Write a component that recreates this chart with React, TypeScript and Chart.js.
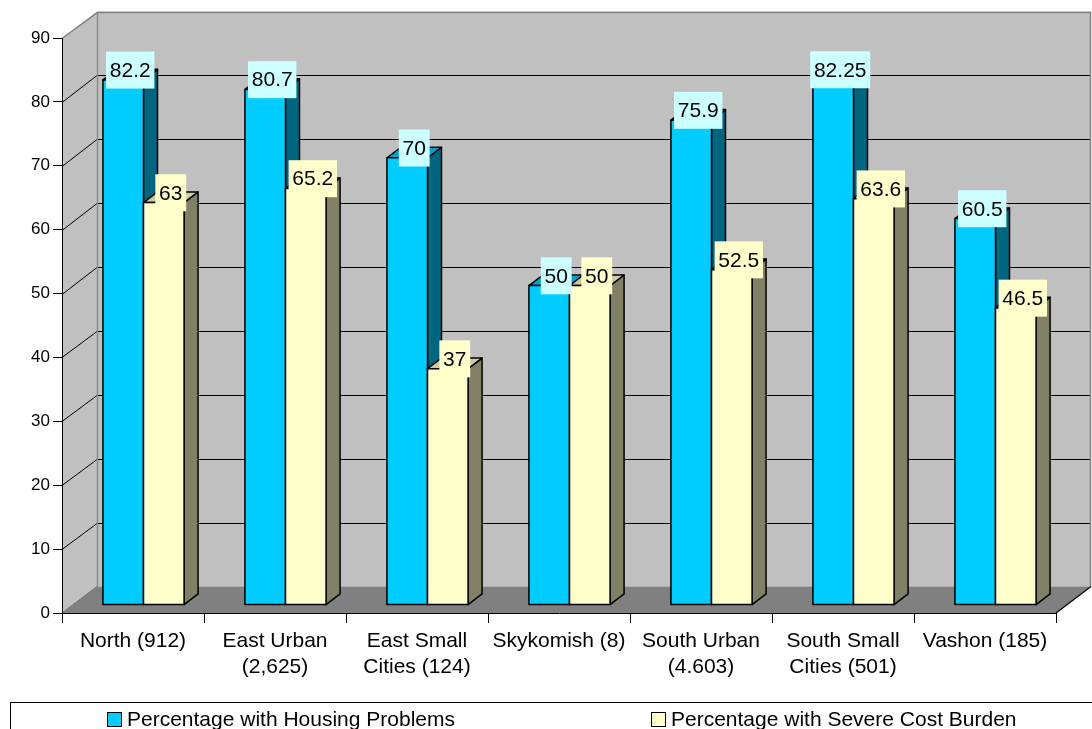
import React, { useEffect, useRef } from "react";
import { Chart, registerables } from "chart.js";

Chart.register(...registerables);

// ---- data ----
const categories: string[][] = [
  ["North (912)"],
  ["East Urban", "(2,625)"],
  ["East Small", "Cities (124)"],
  ["Skykomish (8)"],
  ["South Urban", "(4.603)"],
  ["South Small", "Cities (501)"],
  ["Vashon (185)"],
];
const housingProblems = [82.2, 80.7, 70, 50, 75.9, 82.25, 60.5];
const severeCostBurden = [63, 65.2, 37, 50, 52.5, 63.6, 46.5];
const seriesNames = ["Percentage with Housing Problems", "Percentage with Severe Cost Burden"];
const yMin = 0;
const yMax = 90;
const yStep = 10;

// ---- styling ----
const FONT = '"Liberation Sans", Arial, Helvetica, sans-serif';
const WALL_DX = 35; // depth offset of the back wall
const WALL_DY = 26.5;
const BAR_FRONT = 0.3; // bar front face position within the depth
const BAR_DEPTH = 0.4; // bar thickness within the depth

const seriesStyle = [
  { front: "#00CCFF", top: "#00A3CC", side: "#006680", labelBg: "#CCFFFF" },
  { front: "#FFFFCC", top: "#CCCCA3", side: "#808066", labelBg: "#FFFFCC" },
];

function poly(ctx: CanvasRenderingContext2D, pts: number[][], fill?: string, stroke?: string, lw = 1) {
  ctx.beginPath();
  ctx.moveTo(pts[0][0], pts[0][1]);
  for (let i = 1; i < pts.length; i++) ctx.lineTo(pts[i][0], pts[i][1]);
  ctx.closePath();
  if (fill) {
    ctx.fillStyle = fill;
    ctx.fill();
  }
  if (stroke) {
    ctx.strokeStyle = stroke;
    ctx.lineWidth = lw;
    ctx.stroke();
  }
}

function line(ctx: CanvasRenderingContext2D, pts: number[][], color: string, lw = 1) {
  ctx.beginPath();
  ctx.moveTo(pts[0][0], pts[0][1]);
  for (let i = 1; i < pts.length; i++) ctx.lineTo(pts[i][0], pts[i][1]);
  ctx.strokeStyle = color;
  ctx.lineWidth = lw;
  ctx.stroke();
}

// crisp 1px position
const px = (v: number) => Math.round(v) + 0.5;

// Walls, floor and gridlines of the 3D box, then the bars, labels and legend
const walls3dPlugin = {
  id: "walls3d",
  beforeDraw(chart: any) {
    const { ctx, chartArea, scales } = chart;
    const { left, right, top, bottom } = chartArea;
    const y = scales.y;
    ctx.save();
    // back wall
    poly(ctx, [
      [left + WALL_DX, top - WALL_DY],
      [right + WALL_DX, top - WALL_DY],
      [right + WALL_DX, bottom - WALL_DY],
      [left + WALL_DX, bottom - WALL_DY],
    ], "#C0C0C0");
    // side wall
    poly(ctx, [
      [left, top],
      [left + WALL_DX, top - WALL_DY],
      [left + WALL_DX, bottom - WALL_DY],
      [left, bottom],
    ], "#C0C0C0");
    // floor
    poly(ctx, [
      [left, bottom],
      [right, bottom],
      [right + WALL_DX, bottom - WALL_DY],
      [left + WALL_DX, bottom - WALL_DY],
    ], "#808080");
    // gridlines on side and back walls
    for (let v = yMin + yStep; v < yMax; v += yStep) {
      const yy = y.getPixelForValue(v);
      const yb = px(yy - WALL_DY);
      line(ctx, [
        [left, px(yy)],
        [left + WALL_DX, yb],
        [right + WALL_DX, yb],
      ], "#000000", 1);
    }
    // wall outlines
    const yt = px(top);
    const ytb = px(top - WALL_DY);
    const xb = px(left + WALL_DX);
    const xr = px(right + WALL_DX) - 1;
    line(ctx, [
      [left, yt],
      [xb, ytb],
      [xr, ytb],
      [xr, bottom - WALL_DY],
    ], "#808080", 1.5);
    line(ctx, [
      [xb, ytb],
      [xb, bottom - WALL_DY],
    ], "#8C8C8C", 1.5);
    line(ctx, [
      [left, bottom],
      [left + WALL_DX, bottom - WALL_DY],
    ], "#707070", 1);
    line(ctx, [
      [right, bottom],
      [right + WALL_DX, bottom - WALL_DY],
    ], "#000000", 1.2);
    ctx.restore();
  },
  beforeDatasetsDraw(chart: any) {
    const { ctx } = chart;
    const fx = BAR_FRONT * WALL_DX;
    const fy = BAR_FRONT * WALL_DY;
    const bx = BAR_DEPTH * WALL_DX;
    const by = BAR_DEPTH * WALL_DY;
    const nCat = chart.data.labels.length;
    ctx.save();
    ctx.lineJoin = "round";
    for (let i = 0; i < nCat; i++) {
      chart.data.datasets.forEach((ds: any, d: number) => {
        const el = chart.getDatasetMeta(d).data[i];
        const st = seriesStyle[d];
        const fl = el.x - el.width / 2 + fx;
        const fr = el.x + el.width / 2 + fx;
        const ft = el.y - fy;
        const fb = el.base - fy;
        // side face
        poly(ctx, [[fr, ft], [fr + bx, ft - by], [fr + bx, fb - by], [fr, fb]], st.side, "#000", 1.5);
        // top face
        poly(ctx, [[fl, ft], [fl + bx, ft - by], [fr + bx, ft - by], [fr, ft]], st.top, "#000", 1.5);
        // front face
        poly(ctx, [[fl, ft], [fr, ft], [fr, fb], [fl, fb]], st.front, "#000", 1.5);
      });
    }
    ctx.restore();
    return false;
  },
  afterDraw(chart: any) {
    const { ctx } = chart;
    const fx = BAR_FRONT * WALL_DX;
    const fy = BAR_FRONT * WALL_DY;
    const bx = BAR_DEPTH * WALL_DX;
    const by = BAR_DEPTH * WALL_DY;
    ctx.save();
    ctx.font = `21px ${FONT}`;
    ctx.textAlign = "center";
    ctx.textBaseline = "middle";
    // value labels
    chart.data.datasets.forEach((ds: any, d: number) => {
      const meta = chart.getDatasetMeta(d);
      ds.data.forEach((v: number, i: number) => {
        const el = meta.data[i];
        const text = String(v);
        const cx = el.x + fx + bx / 2;
        const cy = el.y - fy - by / 2 - 4.5;
        const w = ctx.measureText(text).width + 7.5;
        const h = 37;
        ctx.fillStyle = seriesStyle[d].labelBg;
        ctx.fillRect(cx - w / 2, cy - h / 2, w, h);
        ctx.fillStyle = "#000";
        ctx.fillText(text, cx, cy + 1);
      });
    });
    // legend
    ctx.strokeStyle = "#000";
    ctx.lineWidth = 1;
    ctx.strokeRect(10.5, 702.5, 1200, 60);
    const itemX = [107.5, 651.5];
    ctx.textAlign = "left";
    chart.data.datasets.forEach((ds: any, d: number) => {
      const x0 = itemX[d];
      ctx.fillStyle = ds.backgroundColor;
      ctx.fillRect(x0, 712.5, 14, 14);
      ctx.strokeRect(x0, 712.5, 14, 14);
      ctx.fillStyle = "#000";
      ctx.fillText(ds.label, x0 + 19.5, 720);
    });
    ctx.restore();
  },
};

export default function App() {
  const canvasRef = useRef<HTMLCanvasElement | null>(null);

  useEffect(() => {
    if (!canvasRef.current) return;
    Chart.defaults.font.family = FONT;
    Chart.defaults.color = "#000";
    const chart = new Chart(canvasRef.current, {
      type: "bar",
      data: {
        labels: categories,
        datasets: [
          { label: seriesNames[0], data: housingProblems, backgroundColor: seriesStyle[0].front },
          { label: seriesNames[1], data: severeCostBurden, backgroundColor: seriesStyle[1].front },
        ],
      },
      options: {
        responsive: false,
        animation: false,
        events: [],
        datasets: { bar: { categoryPercentage: 2 / 3.5, barPercentage: 1 } },
        layout: { padding: { top: 38, right: 36, left: 0, bottom: 0 } },
        plugins: { legend: { display: false }, tooltip: { enabled: false } },
        scales: {
          x: {
            type: "category",
            offset: true,
            grid: { offset: true, drawOnChartArea: false, drawTicks: true, tickLength: 10, color: "#000" },
            border: { display: true, color: "#000", width: 1 },
            ticks: { font: { size: 21, lineHeight: 1.24 }, color: "#000", padding: 5, maxRotation: 0, autoSkip: false },
            afterFit: (s: any) => { s.height = 116; },
          },
          y: {
            min: yMin,
            max: yMax,
            ticks: { stepSize: yStep, font: { size: 17 }, color: "#000", padding: 3 },
            grid: { drawOnChartArea: false, drawTicks: true, tickLength: 9, color: "#000" },
            border: { display: true, color: "#000", width: 1 },
            afterFit: (s: any) => { s.width = 62; },
          },
        },
      },
      plugins: [walls3dPlugin],
    } as any);
    return () => chart.destroy();
  }, []);

  return (
    <div style={{ position: "absolute", left: 0, top: 0, width: 1092, height: 729, background: "#fff" }}>
      <canvas ref={canvasRef} width={1092} height={729} style={{ display: "block" }} />
    </div>
  );
}
